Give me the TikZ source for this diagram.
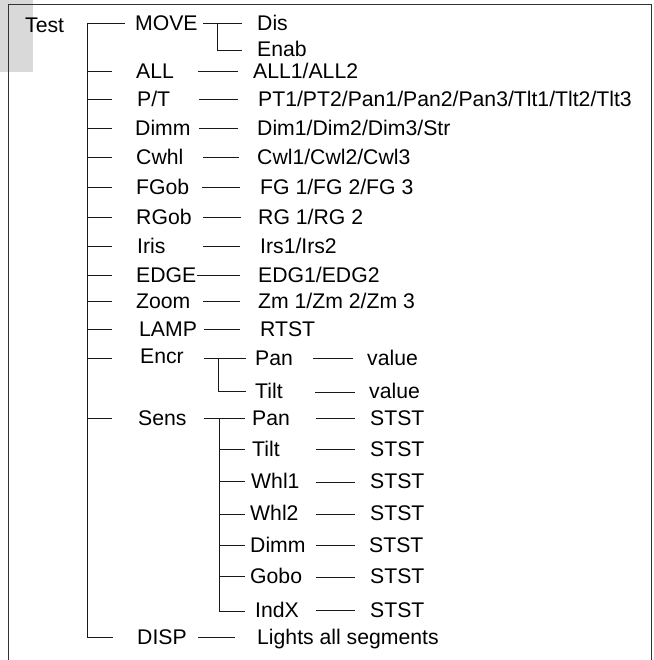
\documentclass[tikz,border=0pt]{standalone}
\usepackage{fontspec}
\setmainfont{Liberation Sans}
\begin{document}
\begin{tikzpicture}[x=1pt,y=-1pt,
  lbl/.style={anchor=base west, inner sep=0pt, yshift=-7.5pt, font=\fontsize{21.2}{25}\selectfont},
  ln/.style={line width=0.9pt, black!90},
  frame/.style={line width=1pt, black!80}]
\useasboundingbox (0,0) rectangle (653,660);
% grey tab and frame
\fill[black!15] (0,0) rectangle (33,72);
\draw[frame] (8,660) -- (8,5) -- (651,5) -- (651,660);
% root
\node[lbl] (test) at (25,25) {Test};
% level 1 labels
\node[lbl] (move) at (135,23) {MOVE};
\node[lbl] (all)  at (136,71) {ALL};
\node[lbl] (pt)   at (137,99) {P/T};
\node[lbl] (dimm) at (135,128) {Dimm};
\node[lbl] (cwhl) at (136,157) {Cwhl};
\node[lbl] (fgob) at (136,187) {FGob};
\node[lbl] (rgob) at (136,217) {RGob};
\node[lbl] (iris) at (137,246) {Iris};
\node[lbl] (edge) at (136,275) {EDGE};
\node[lbl] (zoom) at (136,301) {Zoom};
\node[lbl] (lamp) at (139,329) {LAMP};
\node[lbl] (encr) at (140,356) {Encr};
\node[lbl] (sens) at (138,418) {Sens};
\node[lbl] (disp) at (137,637) {DISP};
% level 2 labels
\node[lbl] (dis)   at (257,23) {Dis};
\node[lbl] (enab)  at (257,49) {Enab};
\node[lbl] (allv)  at (253,71) {ALL1/ALL2};
\node[lbl] (ptv)   at (258,99) {PT1/PT2/Pan1/Pan2/Pan3/Tlt1/Tlt2/Tlt3};
\node[lbl] (dimmv) at (257,128) {Dim1/Dim2/Dim3/Str};
\node[lbl] (cwhlv) at (257,157) {Cwl1/Cwl2/Cwl3};
\node[lbl] (fgobv) at (260,187) {FG 1/FG 2/FG 3};
\node[lbl] (rgobv) at (258,217) {RG 1/RG 2};
\node[lbl] (irisv) at (260,246) {Irs1/Irs2};
\node[lbl] (edgev) at (258,275) {EDG1/EDG2};
\node[lbl] (zoomv) at (258,301) {Zm 1/Zm 2/Zm 3};
\node[lbl] (lampv) at (260,329) {RTST};
\node[lbl] (epan)  at (255,358) {Pan};
\node[lbl] (etilt) at (255,391) {Tilt};
\node[lbl] (span)  at (252,418) {Pan};
\node[lbl] (stilt) at (252,449) {Tilt};
\node[lbl] (swhl1) at (251,481) {Whl1};
\node[lbl] (swhl2) at (250,513) {Whl2};
\node[lbl] (sdimm) at (250,545) {Dimm};
\node[lbl] (sgobo) at (250,576) {Gobo};
\node[lbl] (sindx) at (255,610) {IndX};
\node[lbl] (dispv) at (257,637) {Lights all segments};
% level 3 labels
\node[lbl] (epanv)  at (367,358) {value};
\node[lbl] (etiltv) at (369,391) {value};
\node[lbl] (spanv)  at (370,418) {STST};
\node[lbl] (stiltv) at (370,449) {STST};
\node[lbl] (swhl1v) at (370,481) {STST};
\node[lbl] (swhl2v) at (370,513) {STST};
\node[lbl] (sdimmv) at (369,545) {STST};
\node[lbl] (sgobov) at (370,576) {STST};
\node[lbl] (sindxv) at (370,610) {STST};
% trunk
\coordinate (ttop) at (87,23);
\coordinate (tbot) at (87,637);
\draw[ln] (125,23) -- (ttop) -- (tbot) -- (113,637);
\foreach \y in {71,99,128,157,187,217,246,275,301,329,358,418}
  \draw[ln] (87,\y) -- (112,\y);
% MOVE fork
\draw[ln] (203,23) -- (242,23);
\draw[ln] (217,23) -- (217,50) -- (242,50);
% simple level-2 connectors
\draw[ln] (198,71) -- (238,71);
\draw[ln] (199,99) -- (238,99);
\draw[ln] (199,128) -- (238,128);
\draw[ln] (203,157) -- (239,157);
\draw[ln] (202,187) -- (240,187);
\draw[ln] (203,217) -- (241,217);
\draw[ln] (203,246) -- (240,246);
\draw[ln] (197,275) -- (240,275);
\draw[ln] (203,301) -- (240,301);
\draw[ln] (204,329) -- (240,329);
\draw[ln] (198,637) -- (235,637);
% Encr fork
\draw[ln] (204,358) -- (246,358);
\draw[ln] (218,358) -- (218,391) -- (246,391);
% Sens fork
\draw[ln] (204,418) -- (245,418);
\draw[ln] (219,418) -- (219,611) -- (245,611);
\foreach \y in {449,481,514,545,576}
  \draw[ln] (219,\y) -- (245,\y);
% level-3 connectors
\draw[ln] (313,358) -- (353,358);
\draw[ln] (315,392) -- (355,392);
\foreach \y in {418,449,482,514,545,577,610}
  \draw[ln] (316,\y) -- (355,\y);
\end{tikzpicture}
\end{document}
